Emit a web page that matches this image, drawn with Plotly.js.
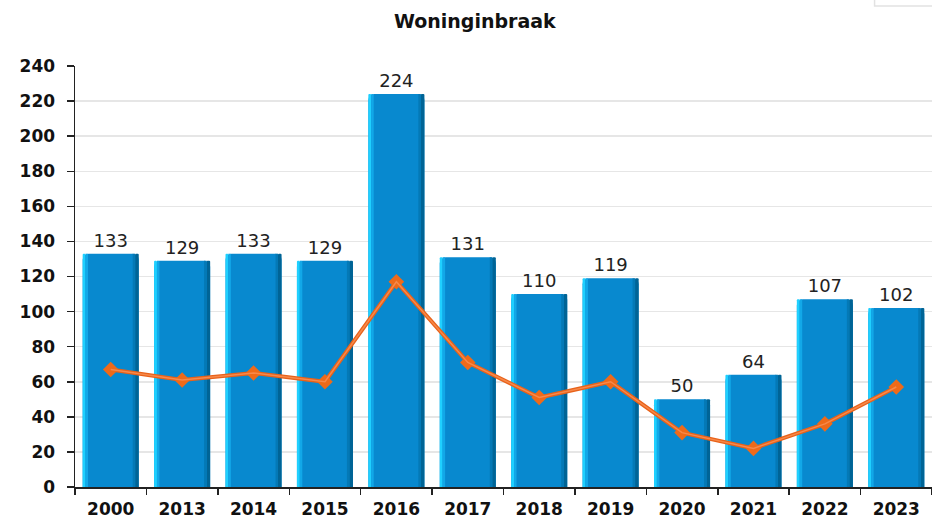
<!DOCTYPE html>
<html><head><meta charset="utf-8">
<script src="https://cdn.plot.ly/plotly-3.0.1.min.js"></script>
<style>html,body{margin:0;padding:0;background:#fff}#chart{width:932px;height:519px}</style>
</head><body><div id="chart"></div>
<script>
const years = ["2000","2013","2014","2015","2016","2017","2018","2019","2020","2021","2022","2023"];
const barValues = [133,129,133,129,224,131,110,119,50,64,107,102];
const lineValues = [67,61,65,60,117,71,51,60,31,22,36,57];
const yTicks = [0,20,40,60,80,100,120,140,160,180,200,220,240];
const titleText = "Woninginbraak";

const W = 0.785;
const common = {type:'bar', x:years, y:barValues, hoverinfo:'skip', showlegend:false};
const traces = [
  Object.assign({}, common, {width:W, marker:{color:'#0889cf', line:{width:0}, cornerradius:6},
   text:barValues.map(String), textposition:'outside', cliponaxis:false,
   textfont:{family:'DejaVu Sans', size:18, color:'#222'}}),
  Object.assign({}, common, {width:0.04, offset:-W/2, marker:{color:'#1fd0ff', line:{width:0}, cornerradius:3}}),
  Object.assign({}, common, {width:0.035, offset:-W/2+0.04, marker:{color:'#12a8e8', line:{width:0}}}),
  Object.assign({}, common, {width:0.05, offset:W/2-0.05, marker:{color:'#006496', line:{width:0}, cornerradius:3}}),
  Object.assign({}, common, {width:0.035, offset:W/2-0.085, marker:{color:'#0479b6', line:{width:0}}}),
  {type:'scatter', mode:'lines+markers', x:years, y:lineValues,
   line:{color:'#e8621a', width:4}, marker:{symbol:'diamond', size:12, color:'#ee6a1a'},
   hoverinfo:'skip', showlegend:false, cliponaxis:false},
  {type:'scatter', mode:'lines', x:years, y:lineValues,
   line:{color:'#f7894a', width:1.5}, hoverinfo:'skip', showlegend:false}
];

const layout = {
  width:932, height:519,
  margin:{l:75, r:0, t:66, b:32},
  paper_bgcolor:'#fff', plot_bgcolor:'#fff',
  barmode:'overlay',
  title:{text:titleText, x:0.4666, xref:'paper', xanchor:'center', y:0.958, yref:'container', yanchor:'middle',
    font:{family:'DejaVu Sans', size:19, color:'#111', weight:'bold'}},
  xaxis:{type:'category', range:[-0.5,11.5], autorange:false, showline:true, linecolor:'#222', linewidth:1.5, ticks:'outside', tickson:'boundaries',
    ticklen:6, tickcolor:'#222', tickwidth:1.5, showgrid:false, ticklabelstandoff:6,
    tickfont:{family:'DejaVu Sans', size:17, color:'#111', weight:'bold'}},
  yaxis:{range:[0,240], autorange:false, tickvals:yTicks, ticktext:yTicks.map(String), showline:true, linecolor:'#222', linewidth:1.5,
    ticks:'outside', ticklen:7, tickcolor:'#222', tickwidth:1.5, gridcolor:'#e6e6e6', gridwidth:1.5, zeroline:false,
    ticklabelstandoff:8,
    tickfont:{family:'DejaVu Sans', size:17, color:'#111', weight:'bold'}},
  shapes:[{type:'rect', xref:'paper', yref:'paper', x0:0.933, x1:1.01, y0:1.1425, y1:1.2, line:{color:'#e2e2e2', width:1.5}, fillcolor:'rgba(0,0,0,0)'}]
};
Plotly.newPlot('chart', traces, layout, {displayModeBar:false, staticPlot:true});
</script></body></html>
